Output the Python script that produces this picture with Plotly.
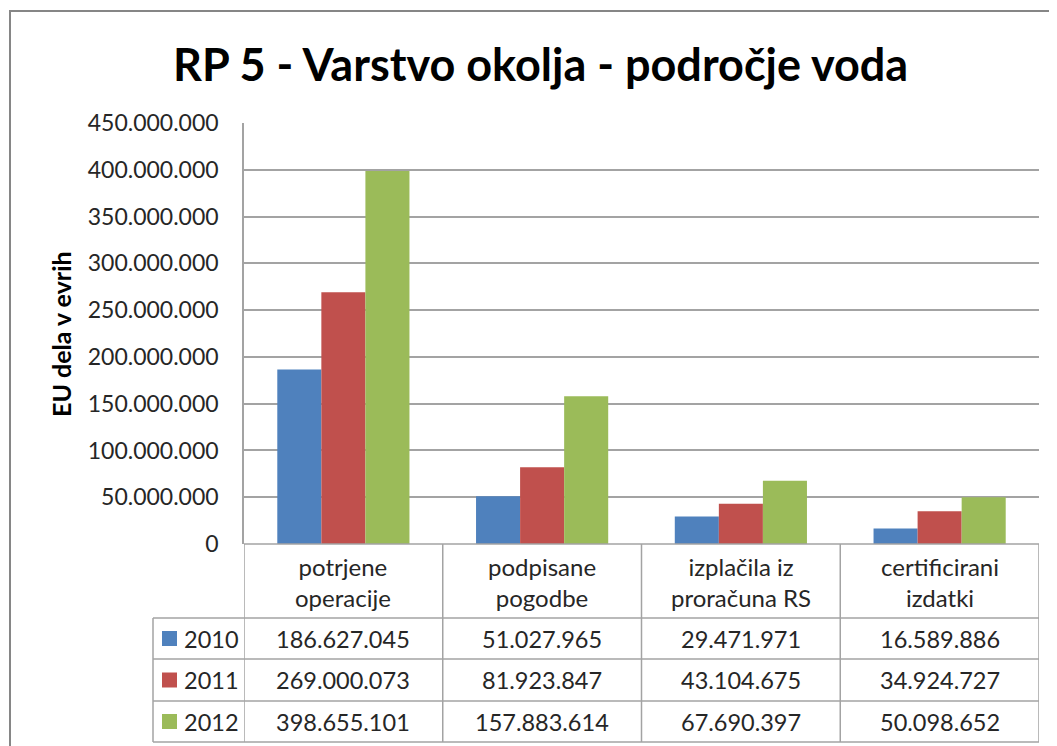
import plotly.graph_objects as go

# ---- data ----
categories = ["potrjene<br>operacije", "podpisane<br>pogodbe", "izplačila iz<br>proračuna RS", "certificirani<br>izdatki"]
years = ["2010", "2011", "2012"]
values_2010 = [186627045, 51027965, 29471971, 16589886]
values_2011 = [269000073, 81923847, 43104675, 34924727]
values_2012 = [398655101, 157883614, 67690397, 50098652]
colors = ["#4F81BD", "#C0504D", "#9BBB59"]
y_ticks = [0, 50000000, 100000000, 150000000, 200000000, 250000000, 300000000, 350000000, 400000000, 450000000]
title_text = "RP 5 - Varstvo okolja - področje voda"
y_title = "EU dela v evrih"

series = [values_2010, values_2011, values_2012]

# ---- layout geometry (page pixels; page body has an 8px default margin) ----
W, H = 1057, 746
OFF = 8
PL, PR, PT, PB = 244, 1039, 123, 544
FONT = "Lato"
TXT = "#262626"
LINE = "#a3a3a3"


def fx(px):
    return (px - PL) / (PR - PL)


def fy(py):
    return (PB - py) / (PB - PT)


def fmt(v):
    return f"{v:,}".replace(",", ".")


fig = go.Figure()
for name, vals, col in zip(years, series, colors):
    fig.add_trace(go.Bar(x=categories, y=vals, name=name, marker=dict(color=col, line=dict(width=0))))

shapes = []
annotations = []

# chart outer border
shapes.append(dict(type="rect", xref="paper", yref="paper", x0=fx(10), x1=fx(1070), y0=fy(760), y1=fy(11),
                   line=dict(color="#868686", width=2), fillcolor="rgba(0,0,0,0)", layer="above"))

# table rows (pixel y)
header_bottom = 618
row_edges = [618, 659, 701, 742]
legend_left = 153

# horizontal lines
shapes.append(dict(type="line", xref="paper", yref="paper", x0=fx(PL), x1=fx(PR), y0=fy(PB), y1=fy(PB),
                   line=dict(color=LINE, width=1.5)))
for ry in row_edges:
    shapes.append(dict(type="line", xref="paper", yref="paper", x0=fx(legend_left), x1=fx(PR), y0=fy(ry), y1=fy(ry),
                       line=dict(color=LINE, width=1.5)))
# vertical lines: column dividers in category coordinates
n = len(categories)
for i in range(n + 1):
    shapes.append(dict(type="line", xref="x", yref="paper", x0=i - 0.5, x1=i - 0.5, y0=fy(row_edges[-1]), y1=fy(PB),
                       line=dict(color=LINE, width=1.5)))
shapes.append(dict(type="line", xref="paper", yref="paper", x0=fx(legend_left), x1=fx(legend_left),
                   y0=fy(row_edges[-1]), y1=fy(row_edges[0]), line=dict(color=LINE, width=1.5)))

# header labels
for i, c in enumerate(categories):
    annotations.append(dict(xref="x", yref="paper", x=i, y=fy((PB + header_bottom) / 2 + 1), text=c,
                            showarrow=False, xanchor="center", yanchor="middle",
                            font=dict(family=FONT, size=24, color=TXT)))

# table values + legend keys
for r, (name, vals, col) in enumerate(zip(years, series, colors)):
    top, bot = row_edges[r], row_edges[r + 1]
    cy = (top + bot) / 2
    shapes.append(dict(type="rect", xref="paper", yref="paper", x0=fx(162), x1=fx(177), y0=fy(cy + 7.5), y1=fy(cy - 7.5),
                       fillcolor=col, line=dict(width=0)))
    annotations.append(dict(xref="paper", yref="paper", x=fx(182), y=fy(cy), text=name, showarrow=False,
                            xanchor="left", yanchor="middle", font=dict(family=FONT, size=23.5, color=TXT)))
    for i, v in enumerate(vals):
        annotations.append(dict(xref="x", yref="paper", x=i, y=fy(cy), text=fmt(v), showarrow=False,
                                xanchor="center", yanchor="middle", font=dict(family=FONT, size=23.5, color=TXT)))

# title
annotations.append(dict(xref="paper", yref="paper", x=fx(540), y=fy(64), text="<b>" + title_text + "</b>",
                        showarrow=False, xanchor="center", yanchor="middle",
                        font=dict(family=FONT, size=45, color="#000000")))
# y-axis title
annotations.append(dict(xref="paper", yref="paper", x=fx(61), y=fy(334), text="<b>" + y_title + "</b>",
                        showarrow=False, xanchor="center", yanchor="middle", textangle=-90,
                        font=dict(family=FONT, size=25, color="#000000")))

fig.update_layout(
    width=W - OFF, height=H - OFF, autosize=False,
    margin=dict(l=PL - OFF, r=W - PR, t=PT - OFF, b=H - PB, pad=0),
    paper_bgcolor="white", plot_bgcolor="white",
    barmode="group", bargap=0.335, bargroupgap=0,
    showlegend=False,
    separators=",.",
    font=dict(family=FONT, color=TXT),
    shapes=shapes, annotations=annotations,
    xaxis=dict(showticklabels=False, showgrid=False, zeroline=False, showline=False, ticks="",
               range=[-0.5, n - 0.5]),
    yaxis=dict(range=[0, 450000000], tickvals=y_ticks, tickformat=",d", showgrid=True, gridcolor=LINE,
               gridwidth=1.5, zeroline=False, showline=True, linecolor=LINE, linewidth=1.5, ticks="",
               ticklabelstandoff=19, tickfont=dict(family=FONT, size=23, color=TXT)),
)

fig.write_html("out.html")
